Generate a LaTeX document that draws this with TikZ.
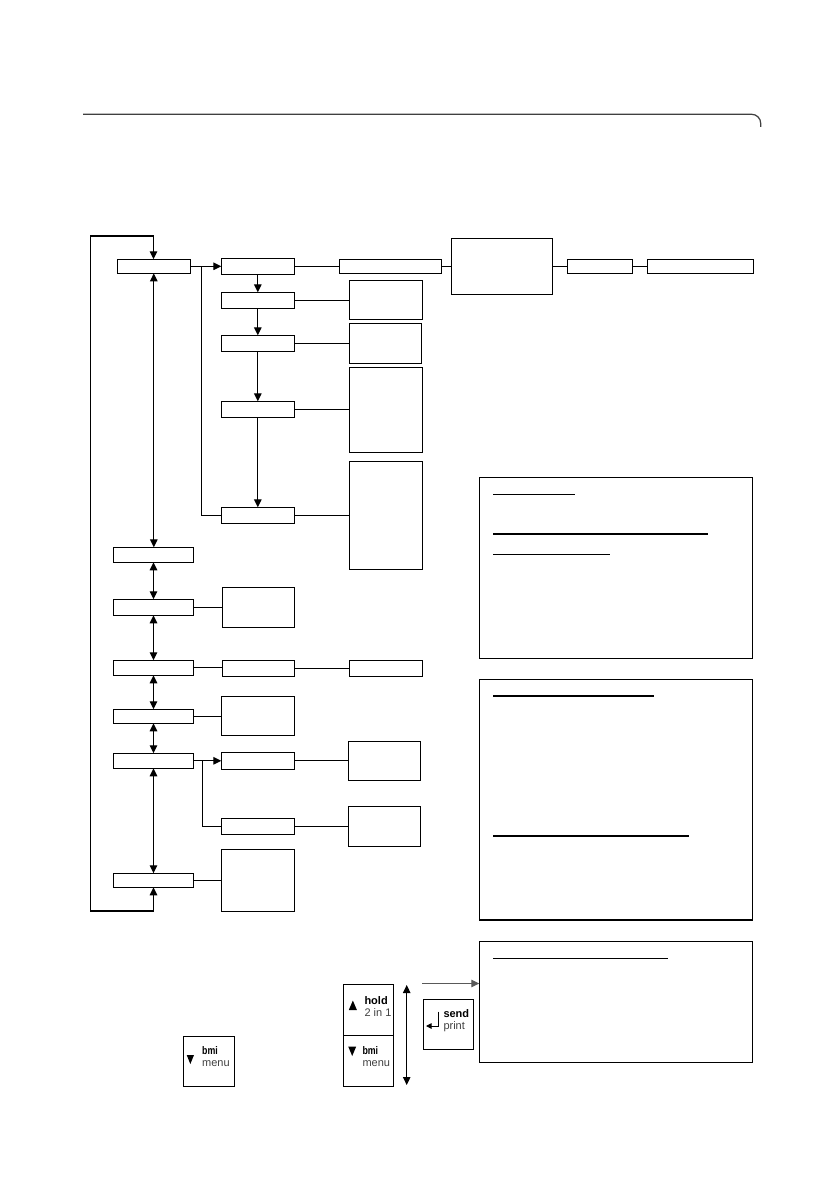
\documentclass[tikz,border=0pt]{standalone}
\usepackage{fontspec}
\setsansfont{Liberation Sans}
\usetikzlibrary{arrows.meta}
\newcommand{\bx}[5]{\node[box,minimum width={#4-#2},minimum height={#5-#3}] (#1) at ({(#2+#4)/2},{(#3+#5)/2}) {};}
\begin{document}
\begin{tikzpicture}[x=1pt,y=-1pt,
  box/.style={draw,line width=1.3pt,rectangle,inner sep=0pt,outer sep=0pt},
  conn/.style={line width=1.2pt},
  arr/.style={conn,-{Triangle[length=8pt,width=7.5pt]}},
  darr/.style={conn,{Triangle[length=8pt,width=7.5pt]}-{Triangle[length=8pt,width=7.5pt]}},
  rulel/.style={line width=1.2pt},
  btxt/.style={font=\sffamily\bfseries\fontsize{11}{12}\selectfont,inner sep=0pt,anchor=base west},
  ntxt/.style={font=\sffamily\fontsize{11}{12}\selectfont,inner sep=0pt,anchor=base west,text=black!75},
]
\useasboundingbox (0,0) rectangle (838,1190);

% header rule
\draw[line width=1.2pt,black!75,rounded corners=9pt] (83,114.3) -- (760.7,114.3) -- (760.7,127);

% top row
\bx{A}{117.3}{259.3}{190.3}{273.3}
\bx{B}{221.3}{258.3}{294.3}{274.3}
\bx{C}{339.3}{259.3}{441.3}{273.3}
\bx{D}{451.3}{238.3}{552.7}{294.3}
\bx{E}{567.3}{259.3}{632.3}{273.3}
\bx{F}{647.3}{259.3}{753.3}{273.3}

% sub column
\bx{S1}{221.3}{292.3}{294.3}{308.3}
\bx{S2}{221.3}{335.3}{294.3}{351.3}
\bx{S3}{221.3}{401.3}{294.3}{417.3}
\bx{S4}{221.3}{507.3}{294.3}{523.3}
\bx{R1}{349.3}{280.3}{422.3}{319.3}
\bx{R2}{349.3}{323.3}{421.7}{363.3}
\bx{R3}{349.3}{367.3}{422.3}{452.3}
\bx{R4}{349.3}{461.3}{422.3}{569.3}

% main column
\bx{M2}{113.3}{547.3}{193.7}{562.3}
\bx{M3}{113.3}{599.3}{193.7}{615.3}
\bx{M4}{113.3}{660.3}{193.7}{675.3}
\bx{M5}{113.3}{709.3}{193.7}{723.3}
\bx{M6}{113.3}{753.3}{193.7}{768.3}
\bx{M7}{113.3}{873.3}{193.7}{887.3}

\bx{P1}{222.3}{587.3}{294.3}{627.3}
\bx{P2}{222.3}{660.3}{294.3}{676.3}
\bx{Q1}{349.3}{660.3}{422.3}{676.3}
\bx{P3}{221.3}{696.3}{294.3}{735.3}
\bx{P4}{221.3}{752.3}{294.3}{769.3}
\bx{P5}{221.3}{818.3}{294.3}{834.3}
\bx{Q2}{348.3}{741.3}{420.3}{780.3}
\bx{Q3}{348.3}{806.3}{420.3}{846.3}
\bx{P6}{221.3}{849.3}{294.3}{911.3}

% info boxes
\bx{I1}{479.3}{477.3}{752.7}{658.3}
\bx{I2}{479.3}{679.3}{752.7}{920}
\bx{I3}{479.3}{941.3}{752.7}{1062.3}
\draw[rulel] (493,494.3) -- (575,494.3);
\draw[rulel] (493,534) -- (707.7,534);
\draw[rulel] (493,554.3) -- (610,554.3);
\draw[rulel] (493,696) -- (654,696);
\draw[rulel] (493,836) -- (689,836);
\draw[rulel] (493,958.7) -- (668,958.7);

% top row connectors
\coordinate (br1) at (201.5,266.3);
\draw[arr] (A.east) -- (B.west);
\draw[conn] (br1) |- (S4.west);
\draw[conn] (B.east) -- (C.west);
\draw[conn] (C.east) -- (D.west |- C.east);
\draw[conn] (D.east |- E.west) -- (E.west);
\draw[conn] (E.east) -- (F.west);

\draw[arr] (B.south) -- (S1.north);
\draw[arr] (S1.south) -- (S2.north);
\draw[arr] (S2.south) -- (S3.north);
\draw[arr] (S3.south) -- (S4.north);
\draw[conn] (S1.east) -- (R1.west |- S1.east);
\draw[conn] (S2.east) -- (R2.west |- S2.east);
\draw[conn] (S3.east) -- (R3.west |- S3.east);
\draw[conn] (S4.east) -- (R4.west |- S4.east);

% main column connectors
\draw[darr] (A.south) -- (A.south |- M2.north);
\draw[darr] (M2.south) -- (M3.north);
\draw[darr] (M3.south) -- (M4.north);
\draw[darr] (M4.south) -- (M5.north);
\draw[darr] (M5.south) -- (M6.north);
\draw[darr] (M6.south) -- (M7.north);

\draw[conn] (M3.east) -- (P1.west |- M3.east);
\draw[conn] (M4.east) -- (P2.west |- M4.east);
\draw[conn] (P2.east) -- (Q1.west |- P2.east);
\draw[conn] (M5.east) -- (P3.west |- M5.east);
\coordinate (br2) at (202.3,760.8);
\draw[arr] (M6.east) -- (P4.west);
\draw[conn] (br2) |- (P5.west);
\draw[conn] (P4.east) -- (Q2.west |- P4.east);
\draw[conn] (P5.east) -- (Q3.west |- P5.east);
\draw[conn] (M7.east) -- (P6.west |- M7.east);

% loop
\coordinate (lb) at (153.5,911);
\coordinate (lt) at (153.5,236);
\coordinate (ll) at (90.3,911);
\coordinate (lu) at (90.3,236);
\draw[arr] (lb) -- (M7.south);
\draw[arr] (lb) -- (ll) -- (lu) -- (lt) -- (lt |- A.north);

% buttons
\bx{K1}{183.3}{1036.7}{234.3}{1086.3}
\bx{K2}{343.3}{984.3}{393.3}{1035.7}
\bx{K3}{343.3}{1035.7}{393.3}{1086.3}
\bx{K4}{423.3}{999.3}{473.3}{1049.3}

\fill (186.7,1055) -- (194,1055) -- (190.35,1064) -- cycle;
\node[btxt] (k1a) at (202,1054) {\scalebox{0.8}[1]{bmi}};
\node[ntxt] (k1b) at (202,1066.7) {menu};

\fill (348.8,1010) -- (356.9,1010) -- (352.85,1000.5) -- cycle;
\node[btxt] (k2a) at (364.3,1004) {hold};
\node[ntxt] (k2b) at (364.3,1016.5) {2 in 1};

\fill (348.2,1046.5) -- (356.2,1046.5) -- (352.2,1056) -- cycle;
\node[btxt] (k3a) at (362.3,1054) {\scalebox{0.8}[1]{bmi}};
\node[ntxt] (k3b) at (362.3,1066.7) {menu};

\node[btxt] (k4a) at (443.3,1017.3) {send};
\node[ntxt] (k4b) at (443.3,1029) {print};
\coordinate (ra) at (438.3,1011.7);
\coordinate (rb) at (438.3,1026);
\coordinate (rc) at (426,1026);
\draw[line width=1pt,-{Triangle[length=5.5pt,width=5.5pt]}] (ra) -- (rb) -- (rc);

\coordinate (va) at (406.7,985);
\coordinate (vb) at (406.7,1085);
\draw[darr,line width=1pt] (va) -- (vb);
\coordinate (ha) at (422,983.5);
\draw[arr,black!65,line width=1pt] (ha) -- (ha -| I3.west);

\end{tikzpicture}
\end{document}
